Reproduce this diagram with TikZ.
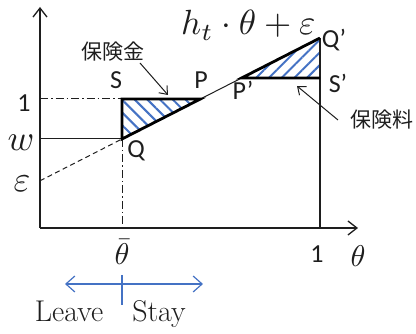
\documentclass[tikz,border=0pt]{standalone}
\usepackage{graphicx}
\usepackage{fontspec}
\newfontfamily\sanslabel{Carlito}
\newfontfamily\cjk{Noto Sans CJK JP}
\usetikzlibrary{patterns.meta,arrows.meta}
\definecolor{hatchblue}{RGB}{68,114,196}
\definecolor{ink}{RGB}{30,30,30}
\newcommand{\scaledmath}[2]{\scalebox{#1}{$#2$}}
\tikzset{
  axisline/.style={line width=1.4pt, draw=ink},
  axisarrow/.style={axisline, -{Straight Barb[length=9pt,width=14pt,line width=1.3pt]}},
  thickedge/.style={line width=2.8pt, draw=black, line join=miter},
  thinline/.style={line width=1pt, draw=ink},
  dashdot/.style={line width=1pt, draw=ink, dash pattern=on 8pt off 3pt on 1.5pt off 3pt},
  dashedline/.style={line width=1pt, draw=ink, dash pattern=on 5pt off 3.5pt},
  hatchL/.style={pattern={Lines[angle=-45,distance=9pt,line width=2pt]}, pattern color=hatchblue},
  hatchR/.style={pattern={Lines[angle=45,distance=9pt,line width=2pt]}, pattern color=hatchblue},
  ptlabel/.style={font=\sanslabel\fontsize{26}{28}\selectfont, text=ink, inner sep=0pt},
  jplabel/.style={font=\cjk\fontsize{21}{24}\selectfont, text=ink, inner sep=0pt},
  mathlabel/.style={text=ink, inner sep=0pt},
  callout/.style={line width=1pt, draw=ink, -{Straight Barb[length=7pt,width=11pt,line width=1pt]}},
  bluearrow/.style={line width=1.2pt, draw=hatchblue, {Straight Barb[length=9pt,width=16pt,line width=1.2pt]}-{Straight Barb[length=9pt,width=16pt,line width=1.2pt]}},
  wordlabel/.style={font=\fontsize{30}{32}\selectfont, text=ink, inner sep=0pt}
}
\begin{document}
\begin{tikzpicture}[x=1pt,y=-1pt]
\useasboundingbox (0,0) rectangle (416,334);
% coordinates
\coordinate (O) at (40,228);
\coordinate (Yt) at (40,7);
\coordinate (Xt) at (358,228);
\coordinate (E) at (40,180.8);
\coordinate (Q) at (122,139);
\coordinate (S) at (122,99);
\coordinate (P) at (200.4,99);
\coordinate (Pp) at (241.6,78);
\coordinate (Qp) at (320,38);
\coordinate (Sp) at (320,78);
\coordinate (Xone) at (320,228);
\coordinate (Tb) at (122,228);
\coordinate (W0) at (40,139);
\coordinate (One0) at (40,99);
% hatched triangles
\path[hatchL] (S) -- (P) -- (Q) -- cycle;
\path[hatchR] (Pp) -- (Qp) -- (Sp) -- cycle;
% guide lines
\draw[dashdot] (One0) -- (S);
\draw[dashdot] (Q) -- (Tb);
\draw[thinline] (W0) -- (Q);
\draw[dashedline] (E) -- (Q);
\draw[thinline] (Q) -- (Qp);
\draw[axisline] (Xone) -- (Qp);
% thick triangle edges
\draw[thickedge] (Q) -- (S) -- (P) -- cycle;
\draw[thickedge] (Sp) -- (Pp) -- (Qp);
% axes
\draw[axisarrow] (O) -- (Yt);
\draw[axisarrow] (O) -- (Xt);
% point labels
\node[ptlabel] (lS) at (116,80) {S};
\node[ptlabel] (lP) at (201,80) {P};
\node[ptlabel] (lQ) at (136,151) {Q};
\node[ptlabel] (lPp) at (243,90) {P’};
\node[ptlabel] (lQp) at (334,40) {Q’};
\node[ptlabel] (lSp) at (338,83) {S’};
\node[ptlabel] (l1y) at (24,103) {1};
\node[ptlabel] (l1x) at (317,254) {1};
% math labels
\node[mathlabel, anchor=base west] (formula) at (181,35) {\scaledmath{3.5}{h_t\cdot\theta+\varepsilon}};
\node[mathlabel] (lw) at (21,143) {\scaledmath{3.6}{w}};
\node[mathlabel] (leps) at (22,184) {\scaledmath{3.6}{\varepsilon}};
\node[mathlabel] (ltb) at (122,252) {\scaledmath{3.0}{\bar\theta}};
\node[mathlabel] (lth) at (358,256) {\scaledmath{3.0}{\theta}};
% callouts
\node[jplabel] (kin) at (113,52) {保険金};
\node[jplabel] (ryo) at (382,120) {保険料};
\coordinate (kinTip) at (168,95);
\coordinate (kinTail) at (140,63);
\coordinate (ryoTip) at (297,86);
\coordinate (ryoTail) at (338,120);
\draw[callout] (kinTail) -- (kinTip);
\draw[callout] (ryoTail) -- (ryoTip);
% leave / stay
\coordinate (BL) at (65,284);
\coordinate (BR) at (203,284);
\coordinate (Ttop) at (122,275);
\coordinate (Tbot) at (122,305);
\draw[bluearrow] (BL) -- (BR);
\draw[line width=1.2pt, draw=hatchblue] (Ttop) -- (Tbot);
\node[wordlabel, anchor=base] (leave) at (69,322) {Leave};
\node[wordlabel, anchor=base] (stay) at (159,322) {Stay};
\end{tikzpicture}
\end{document}
